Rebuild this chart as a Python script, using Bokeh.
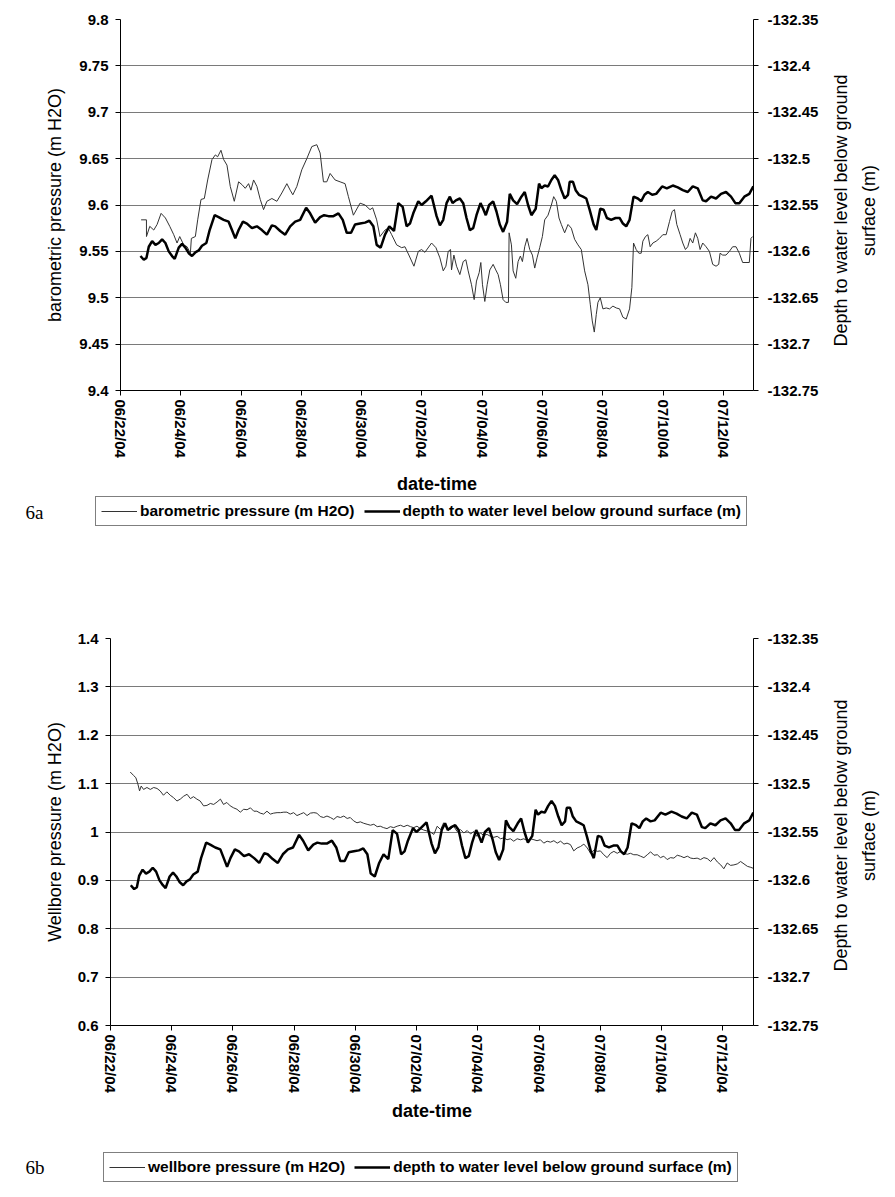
import math
import pandas as pd
from bokeh.plotting import figure
from bokeh.models import (Range1d, LinearAxis, FixedTicker, CustomJSTickFormatter,
                          DatetimeTickFormatter, Legend, LegendItem, ColumnDataSource, Label)
from bokeh.layouts import column, row
from bokeh.embed import file_html
from bokeh.resources import INLINE

# ---------------- data ----------------
START = "2004-06-22"
END = "2004-07-13"
date_ticks = ["2004-06-22", "2004-06-24", "2004-06-26", "2004-06-28", "2004-06-30",
              "2004-07-02", "2004-07-04", "2004-07-06", "2004-07-08", "2004-07-10", "2004-07-12"]
baro_ticks = [9.4, 9.45, 9.5, 9.55, 9.6, 9.65, 9.7, 9.75, 9.8]
well_ticks = [0.6, 0.7, 0.8, 0.9, 1.0, 1.1, 1.2, 1.3, 1.4]
depth_ticks = [-132.75, -132.7, -132.65, -132.6, -132.55, -132.5, -132.45, -132.4, -132.35]

# days elapsed since 06/22/04 00:00
baro_days = [0.684, 0.861, 0.862, 0.971, 1.104, 1.214, 1.347, 1.490, 1.634, 1.766, 1.876, 1.965,
             2.097, 2.208, 2.318, 2.351, 2.483, 2.561, 2.671, 2.781, 2.892, 3.035, 3.146, 3.223,
             3.333, 3.422, 3.532, 3.642, 3.775, 3.918, 4.029, 4.139, 4.249, 4.327, 4.415, 4.525,
             4.636, 4.746, 4.857, 5.022, 5.188, 5.353, 5.519, 5.629, 5.717, 5.850, 6.015, 6.181,
             6.347, 6.512, 6.623, 6.733, 6.843, 6.954, 7.119, 7.285, 7.450, 7.561, 7.726, 7.947,
             8.113, 8.278, 8.366, 8.499, 8.609, 8.775, 8.885, 8.996, 9.161, 9.327, 9.437, 9.581,
             9.735, 9.879, 9.989, 10.099, 10.320, 10.464, 10.596,
             10.707, 10.795, 10.872, 10.949, 10.982, 11.060, 11.148, 11.258, 11.369, 11.457,
             11.534, 11.645, 11.733, 11.810, 11.899, 11.954, 12.009, 12.086, 12.164, 12.252,
             12.362, 12.450, 12.528, 12.605, 12.693, 12.782, 12.870, 12.892, 12.969, 13.025,
             13.113, 13.190, 13.267, 13.334, 13.411, 13.488, 13.576, 13.665, 13.742, 13.819,
             13.907, 13.996, 14.073, 14.183, 14.294, 14.371, 14.459, 14.547, 14.625, 14.735,
             14.846, 14.956, 15.066, 15.177, 15.287, 15.398, 15.508, 15.585, 15.651, 15.718,
             15.784, 15.839, 15.916, 16.005, 16.115, 16.225, 16.336, 16.446, 16.557, 16.667,
             16.777, 16.888, 16.965, 17.020, 17.108, 17.197, 17.274, 17.329, 17.417, 17.495,
             17.572, 17.660, 17.771, 17.881, 17.992, 18.102, 18.212, 18.301, 18.378, 18.455,
             18.566, 18.654, 18.742, 18.819, 18.897, 18.985, 19.073, 19.150, 19.228, 19.316,
             19.426, 19.537, 19.647, 19.757, 19.846, 19.890, 19.978, 20.088, 20.199, 20.309,
             20.420, 20.530, 20.640, 20.751, 20.861, 20.916, 20.972]
baro_m = [9.584, 9.584, 9.566, 9.577, 9.573, 9.579, 9.591, 9.586, 9.577, 9.568, 9.559, 9.566,
          9.557, 9.555, 9.548, 9.564, 9.566, 9.584, 9.606, 9.607, 9.627, 9.649, 9.654, 9.652,
          9.659, 9.649, 9.643, 9.620, 9.604, 9.625, 9.622, 9.618, 9.623, 9.616, 9.627, 9.620,
          9.606, 9.595, 9.604, 9.607, 9.604, 9.613, 9.623, 9.616, 9.611, 9.620, 9.638, 9.650,
          9.663, 9.665, 9.656, 9.625, 9.625, 9.634, 9.627, 9.625, 9.623, 9.609, 9.589, 9.602,
          9.600, 9.595, 9.597, 9.584, 9.566, 9.573, 9.575, 9.568, 9.557, 9.554, 9.555, 9.545,
          9.534, 9.550, 9.552, 9.549, 9.559, 9.554, 9.543,
          9.529, 9.534, 9.550, 9.552, 9.530, 9.546, 9.534, 9.525, 9.539, 9.541,
          9.529, 9.514, 9.498, 9.518, 9.527, 9.538, 9.514, 9.496, 9.514, 9.530,
          9.536, 9.530, 9.525, 9.514, 9.498, 9.495, 9.495, 9.570, 9.557, 9.529,
          9.521, 9.539, 9.545, 9.539, 9.555, 9.564, 9.552, 9.546, 9.532, 9.543,
          9.554, 9.566, 9.584, 9.589, 9.600, 9.609, 9.604, 9.586, 9.579, 9.570,
          9.579, 9.575, 9.563, 9.557, 9.552, 9.529, 9.514, 9.493, 9.475, 9.463,
          9.482, 9.495, 9.500, 9.488, 9.489, 9.488, 9.491, 9.489, 9.488, 9.479,
          9.477, 9.488, 9.511, 9.559, 9.552, 9.548, 9.548, 9.561, 9.566, 9.568,
          9.555, 9.559, 9.561, 9.564, 9.568, 9.568, 9.582, 9.593, 9.595, 9.579,
          9.568, 9.559, 9.552, 9.555, 9.564, 9.559, 9.570, 9.564, 9.552, 9.559,
          9.555, 9.550, 9.536, 9.534, 9.536, 9.548, 9.546, 9.546, 9.550, 9.555,
          9.555, 9.548, 9.538, 9.538, 9.538, 9.564, 9.566]

depth_days = [0.662, 0.773, 0.861, 0.938, 1.049, 1.159, 1.269, 1.380, 1.490, 1.600, 1.711, 1.799,
              1.932, 2.042, 2.152, 2.263, 2.373, 2.483, 2.594, 2.704, 2.848, 2.958, 3.124, 3.256,
              3.422, 3.587, 3.698, 3.808, 3.918, 4.062, 4.194, 4.360, 4.525, 4.691, 4.857, 5.022,
              5.132, 5.298, 5.464, 5.629, 5.795, 5.960, 6.159, 6.291, 6.457, 6.623, 6.755, 6.898,
              7.064, 7.230, 7.373, 7.506, 7.649, 7.781, 7.947, 8.113, 8.256, 8.389, 8.499, 8.631,
              8.775, 8.918, 9.073, 9.216, 9.360, 9.492, 9.603, 9.713, 9.879, 9.989, 10.132, 10.320,
              10.486, 10.596,
              10.707, 10.817, 10.927, 11.016, 11.126, 11.258, 11.369, 11.479, 11.590, 11.700,
              11.810, 11.943, 12.031, 12.119, 12.230, 12.362, 12.473, 12.583, 12.693, 12.826,
              12.914, 13.025, 13.157, 13.300, 13.411, 13.521, 13.632, 13.775, 13.885, 13.963,
              14.073, 14.183, 14.294, 14.404, 14.515, 14.625, 14.735, 14.846, 14.901, 15.011,
              15.100, 15.210, 15.342, 15.453, 15.563, 15.696, 15.784, 15.916, 16.027, 16.137,
              16.280, 16.424, 16.557, 16.667, 16.777, 16.888, 17.020, 17.164, 17.274, 17.384,
              17.495, 17.638, 17.771, 17.969, 18.124, 18.322, 18.488, 18.653, 18.819, 18.985,
              19.150, 19.316, 19.426, 19.592, 19.757, 19.923, 20.088, 20.254, 20.398, 20.530,
              20.696, 20.861, 20.994]
depth_m = [-132.605, -132.609, -132.607, -132.595, -132.589, -132.593, -132.591, -132.587, -132.591,
           -132.600, -132.605, -132.608, -132.596, -132.592, -132.596, -132.602, -132.605, -132.601,
           -132.599, -132.594, -132.591, -132.577, -132.561, -132.563, -132.566, -132.568, -132.577,
           -132.586, -132.577, -132.568, -132.570, -132.575, -132.573, -132.577, -132.582, -132.572,
           -132.573, -132.578, -132.582, -132.573, -132.568, -132.566, -132.553, -132.559, -132.569,
           -132.563, -132.561, -132.562, -132.562, -132.559, -132.566, -132.580, -132.580, -132.571,
           -132.570, -132.569, -132.567, -132.573, -132.593, -132.596, -132.582, -132.573, -132.578,
           -132.548, -132.552, -132.573, -132.570, -132.559, -132.546, -132.550, -132.546, -132.540,
           -132.562, -132.572,
           -132.566, -132.548, -132.541, -132.548, -132.545, -132.543, -132.548, -132.564, -132.577,
           -132.575, -132.561, -132.548, -132.554, -132.561, -132.550, -132.546, -132.557, -132.571,
           -132.579, -132.568, -132.538, -132.545, -132.549, -132.541, -132.536, -132.550, -132.561,
           -132.554, -132.527, -132.532, -132.529, -132.530, -132.523, -132.518, -132.523, -132.534,
           -132.543, -132.539, -132.525, -132.525, -132.534, -132.539, -132.541, -132.543, -132.555,
           -132.571, -132.577, -132.554, -132.555, -132.564, -132.566, -132.564, -132.564, -132.570,
           -132.573, -132.566, -132.541, -132.543, -132.546, -132.539, -132.536, -132.539, -132.538,
           -132.530, -132.532, -132.529, -132.531, -132.534, -132.536, -132.530, -132.532, -132.545,
           -132.546, -132.541, -132.543, -132.538, -132.536, -132.541, -132.548, -132.548, -132.541,
           -132.538, -132.530]

well_days = [0.644, 0.753, 0.829, 0.895, 0.949, 1.003, 1.080,
             1.19, 1.30, 1.41, 1.52, 1.62, 1.73, 1.84, 1.95, 2.06, 2.17,
             2.28, 2.39, 2.50, 2.61, 2.71, 2.82, 2.93, 3.04, 3.15, 3.26,
             3.37, 3.48, 3.59, 3.69, 3.80, 3.91, 4.02, 4.13, 4.24, 4.35,
             4.46, 4.57, 4.68, 4.78, 4.89, 5.00, 5.11, 5.22, 5.33, 5.44,
             5.55, 5.66, 5.76, 5.87, 5.98, 6.09, 6.20, 6.31, 6.42, 6.53,
             6.64, 6.74, 6.85, 6.96, 7.07, 7.18, 7.29, 7.40, 7.51, 7.62,
             7.73, 7.83, 7.94, 8.05, 8.16, 8.27, 8.38, 8.49, 8.60, 8.71,
             8.81, 8.92, 9.03, 9.14, 9.25, 9.36, 9.47, 9.58, 9.69, 9.80,
             9.90, 10.01, 10.12, 10.23, 10.34, 10.45, 10.56,
             10.67, 10.78, 10.88, 10.99, 11.10, 11.21, 11.32, 11.43, 11.54, 11.65,
             11.76, 11.86, 11.97, 12.08, 12.19, 12.30, 12.41, 12.52, 12.63, 12.74,
             12.85, 12.95, 13.06, 13.17, 13.28, 13.39, 13.50, 13.61, 13.72, 13.83,
             13.93, 14.04, 14.15, 14.26, 14.37, 14.48, 14.59, 14.70, 14.81, 14.91,
             15.02, 15.13, 15.24, 15.35, 15.46, 15.57, 15.68, 15.79, 15.90, 16.00,
             16.11, 16.22, 16.33, 16.44, 16.55, 16.66, 16.77, 16.88, 16.98, 17.09,
             17.20, 17.31, 17.42, 17.53, 17.64, 17.75, 17.86, 17.96, 18.07, 18.18,
             18.29, 18.40, 18.51, 18.62, 18.73, 18.84, 18.95, 19.05, 19.16, 19.27,
             19.38, 19.49, 19.60, 19.71, 19.82, 19.93, 20.03, 20.14, 20.25, 20.36,
             20.47, 20.58, 20.69, 20.80, 20.91, 20.99]
well_m = [1.124, 1.117, 1.112, 1.099, 1.085, 1.095, 1.088,
          1.092, 1.088, 1.092, 1.090, 1.085, 1.076, 1.083, 1.076, 1.071, 1.064,
          1.068, 1.074, 1.078, 1.069, 1.073, 1.068, 1.064, 1.054, 1.055, 1.059,
          1.057, 1.062, 1.068, 1.057, 1.061, 1.054, 1.050, 1.047, 1.041, 1.047,
          1.046, 1.050, 1.043, 1.043, 1.039, 1.037, 1.043, 1.037, 1.039, 1.040,
          1.040, 1.041, 1.041, 1.037, 1.040, 1.034, 1.037, 1.040, 1.034, 1.039,
          1.040, 1.039, 1.032, 1.030, 1.033, 1.030, 1.026, 1.032, 1.030, 1.033,
          1.028, 1.030, 1.023, 1.019, 1.021, 1.018, 1.016, 1.014, 1.016, 1.011,
          1.012, 1.009, 1.007, 1.011, 1.009, 1.012, 1.014, 1.011, 1.014, 1.011,
          1.009, 1.012, 1.007, 1.004, 1.002, 1.000, 0.995,
          1.012, 1.005, 1.019, 1.007, 1.005, 1.012, 1.001, 1.005, 0.998, 1.003,
          0.996, 1.001, 0.991, 0.998, 0.993, 0.995, 0.991, 0.989, 0.991, 0.986,
          0.988, 0.984, 0.986, 0.981, 0.986, 0.984, 0.986, 0.982, 0.986, 0.984,
          0.982, 0.984, 0.977, 0.981, 0.979, 0.982, 0.977, 0.981, 0.975, 0.977,
          0.974, 0.961, 0.967, 0.970, 0.975, 0.967, 0.956, 0.963, 0.960, 0.961,
          0.953, 0.947, 0.956, 0.960, 0.956, 0.960, 0.956, 0.954, 0.956, 0.953,
          0.953, 0.950, 0.947, 0.953, 0.959, 0.952, 0.953, 0.947, 0.950, 0.943,
          0.947, 0.946, 0.952, 0.950, 0.947, 0.950, 0.946, 0.945, 0.946, 0.943,
          0.947, 0.945, 0.939, 0.947, 0.938, 0.932, 0.924, 0.936, 0.931, 0.932,
          0.934, 0.939, 0.934, 0.929, 0.927, 0.925]

baro_label = "barometric pressure (m H2O)"
well_label = "wellbore pressure (m H2O)"
depth_label = "depth to water level below ground surface (m)"
right_title_1 = "Depth to water level below ground"
right_title_2 = "surface (m)"

# ---------------- helpers ----------------
FONT = "Liberation Sans"
t0 = pd.Timestamp(START)
THIN = dict(line_color="#333333", line_width=1)
THICK = dict(line_color="black", line_width=2.5)
NAN = float("nan")


def to_time(days):
    return (t0 + pd.to_timedelta(days, unit="D")).values


date_tick_ms = [pd.Timestamp(d).value / 1e6 for d in date_ticks]
num_fmt = CustomJSTickFormatter(code="return String(parseFloat(tick.toFixed(2)));")
date_fmt = DatetimeTickFormatter(days="%m/%d/%y", months="%m/%d/%y", hours="%m/%d/%y",
                                 hourmin="%m/%d/%y", years="%m/%d/%y")


def style_axis(ax):
    ax.axis_line_color = "black"
    ax.axis_line_width = 1
    ax.major_tick_line_color = "black"
    ax.major_tick_out = 5
    ax.major_tick_in = 0
    ax.minor_tick_line_color = None
    ax.major_label_text_font = FONT
    ax.major_label_text_font_style = "bold"
    ax.major_label_text_font_size = "15px"
    ax.major_label_text_color = "black"


def blank(width, height):
    f = figure(width=width, height=height, x_range=Range1d(0, 1), y_range=Range1d(0, 1),
               x_axis_location=None, y_axis_location=None, output_backend="svg",
               toolbar_location=None, min_border=0)
    f.outline_line_color = None
    f.xgrid.visible = False
    f.ygrid.visible = False
    f.background_fill_color = "white"
    f.border_fill_color = "white"
    return f


def make_chart(height, b_left, b_top, b_bottom, y_lo, y_hi, y_ticks, thin_days, thin_vals,
               left_title, left_standoff, x_title_standoff):
    p = figure(width=825, height=height, x_axis_type="datetime",
               x_range=Range1d(pd.Timestamp(START), pd.Timestamp(END)),
               y_range=Range1d(y_lo, y_hi),
               output_backend="svg", toolbar_location=None,
               min_border_left=b_left, min_border_right=72,
               min_border_top=b_top, min_border_bottom=b_bottom)
    p.outline_line_color = None
    p.background_fill_color = "white"
    p.border_fill_color = "white"
    p.extra_y_ranges = {"depth": Range1d(-132.75, -132.35)}

    p.xaxis.ticker = FixedTicker(ticks=date_tick_ms)
    p.xaxis.formatter = date_fmt
    p.xaxis.major_label_orientation = "vertical"
    p.xaxis.major_label_standoff = 4
    p.xaxis.axis_label = "date-time"
    p.xaxis.axis_label_standoff = x_title_standoff
    p.xaxis.axis_label_text_font = FONT
    p.xaxis.axis_label_text_font_style = "bold"
    p.xaxis.axis_label_text_font_size = "18px"
    p.xaxis.axis_label_text_color = "black"

    p.yaxis.ticker = FixedTicker(ticks=y_ticks)
    p.yaxis.formatter = num_fmt
    p.yaxis.major_label_standoff = 7
    p.yaxis.axis_label = left_title
    p.yaxis.axis_label_standoff = left_standoff
    p.yaxis.axis_label_text_font = FONT
    p.yaxis.axis_label_text_font_style = "normal"
    p.yaxis.axis_label_text_font_size = "18px"
    p.yaxis.axis_label_text_color = "black"
    style_axis(p.xaxis[0])
    style_axis(p.yaxis[0])

    rax = LinearAxis(y_range_name="depth", ticker=FixedTicker(ticks=depth_ticks), formatter=num_fmt)
    style_axis(rax)
    rax.major_label_standoff = 9
    p.add_layout(rax, "right")

    p.xgrid.visible = False
    p.ygrid.ticker = FixedTicker(ticks=y_ticks)
    p.ygrid.grid_line_color = "#7a7a7a"
    p.ygrid.grid_line_width = 1

    src_thin = ColumnDataSource(dict(t=to_time(thin_days), v=thin_vals))
    src_depth = ColumnDataSource(dict(t=to_time(depth_days), v=depth_m))
    p.line("t", "v", source=src_thin, **THIN)
    p.line("t", "v", source=src_depth, y_range_name="depth", **THICK)
    return p


def right_titles(height, y_center_from_frame_bottom):
    # this figure's frame is aligned with the chart frame in the row
    f = blank(62, height)
    for x, txt in ((15, right_title_1), (43, right_title_2)):
        f.add_layout(Label(x=x, y=y_center_from_frame_bottom, x_units="screen", y_units="screen",
                           text=txt, angle=math.pi / 2, text_align="center",
                           text_baseline="middle", text_font=FONT, text_font_size="18px",
                           text_color="black"))
    return f


def legend_strip(height, thin_label, loc, tag, tag_y):
    f = blank(887, height)
    # legend sample lines only (no visible points)
    r1 = f.line("x", "y", source=ColumnDataSource(dict(x=[NAN, NAN], y=[NAN, NAN])), **THIN)
    r2 = f.line("x", "y", source=ColumnDataSource(dict(x=[NAN, NAN], y=[NAN, NAN])), **THICK)
    legend = Legend(items=[LegendItem(label=thin_label, renderers=[r1]),
                           LegendItem(label=depth_label, renderers=[r2])],
                    orientation="horizontal", location=loc)
    legend.border_line_color = "black"
    legend.border_line_width = 1
    legend.background_fill_color = "white"
    legend.background_fill_alpha = 1
    legend.label_text_font = FONT
    legend.label_text_font_style = "bold"
    legend.label_text_font_size = "15.5px"
    legend.label_text_color = "black"
    legend.glyph_width = 36
    legend.glyph_height = 18
    legend.label_height = 18
    legend.label_standoff = 3
    legend.spacing = 9
    legend.padding = 5
    legend.margin = 0
    f.add_layout(legend)
    f.add_layout(Label(x=25, y=tag_y, x_units="screen", y_units="screen", text=tag,
                       text_align="left", text_baseline="middle",
                       text_font="Liberation Serif", text_font_size="19px", text_color="black"))
    return f


p1 = make_chart(496, 120, 19, 105, 9.4, 9.8, baro_ticks, baro_days, baro_m,
                "barometric pressure (m H2O)", 11, 13)
p2 = make_chart(557, 110, 70, 100, 0.6, 1.4, well_ticks, well_days, well_m,
                "Wellbore pressure (m H2O)", 10, 5)
r1 = right_titles(496, 180)
r2 = right_titles(557, 190)
l1 = legend_strip(72, baro_label, (95, 42), "6a", 56)
l2 = legend_strip(64, well_label, (103, 7), "6b", 22)

layout = column(row(p1, r1, spacing=0), l1, row(p2, r2, spacing=0), l2, spacing=0)
open("out.html", "w").write(file_html(layout, INLINE))
